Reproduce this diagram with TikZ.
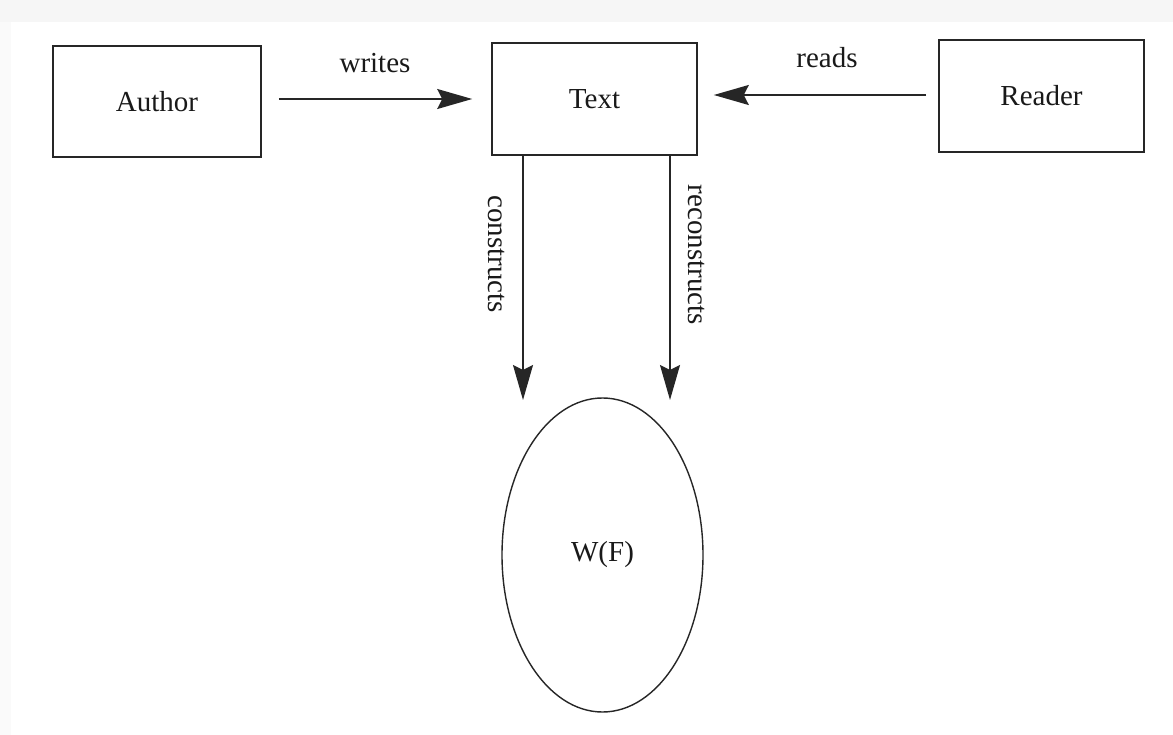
\documentclass[tikz,border=0pt]{standalone}
\usepackage{fontspec}
\setmainfont{Liberation Serif}
\usetikzlibrary{shapes.geometric,arrows.meta}
\begin{document}
\begin{tikzpicture}[x=1pt,y=-1pt,
  every node/.style={font=\fontsize{29}{34}\selectfont, text=black!90},
  box/.style={draw=black!85, line width=1.6pt, rectangle, minimum width=206pt, minimum height=112pt, inner sep=0pt},
  oval/.style={draw=black!85, line width=1.4pt, ellipse, minimum width=201pt, minimum height=314pt, inner sep=0pt},
  arr/.style={draw=black!85, line width=1.6pt, -{Stealth[length=35pt,width=20pt,inset=5pt]}},
  lab/.style={inner sep=0pt}]
\useasboundingbox (0,0) rectangle (1173,735);
\fill[white] (0,0) rectangle (1173,735);
\fill[gray!7] (0,0) rectangle (1173,22);
\fill[gray!4] (0,22) rectangle (11,735);

\node[box, minimum width=208pt, minimum height=111pt] (author) at (157,101.5) {Author};
\node[box, minimum width=205pt] (text) at (594.5,99) {Text};
\node[box, minimum width=205pt] (reader) at (1041.5,96) {Reader};
\node[oval] (wf) at (602.5,555) {W(F)};

\coordinate (c1) at (523,400);
\coordinate (c2) at (670,400);

\draw[arr, shorten <=17pt, shorten >=19pt] (author.east |- 0,99) -- (text.west |- 0,99);
\draw[arr, shorten <=12pt, shorten >=16pt] (reader.west |- 0,95) -- (text.east |- 0,95);
\draw[arr] (text.south -| c1) -- (c1);
\draw[arr] (text.south -| c2) -- (c2);

\node[lab] (lwrites) at (375,63) {writes};
\node[lab] (lreads) at (827,58) {reads};
\node[lab, rotate=-90] (lcons) at (497,254) {constructs};
\node[lab, rotate=-90] (lrecons) at (697,255) {reconstructs};
\end{tikzpicture}
\end{document}
